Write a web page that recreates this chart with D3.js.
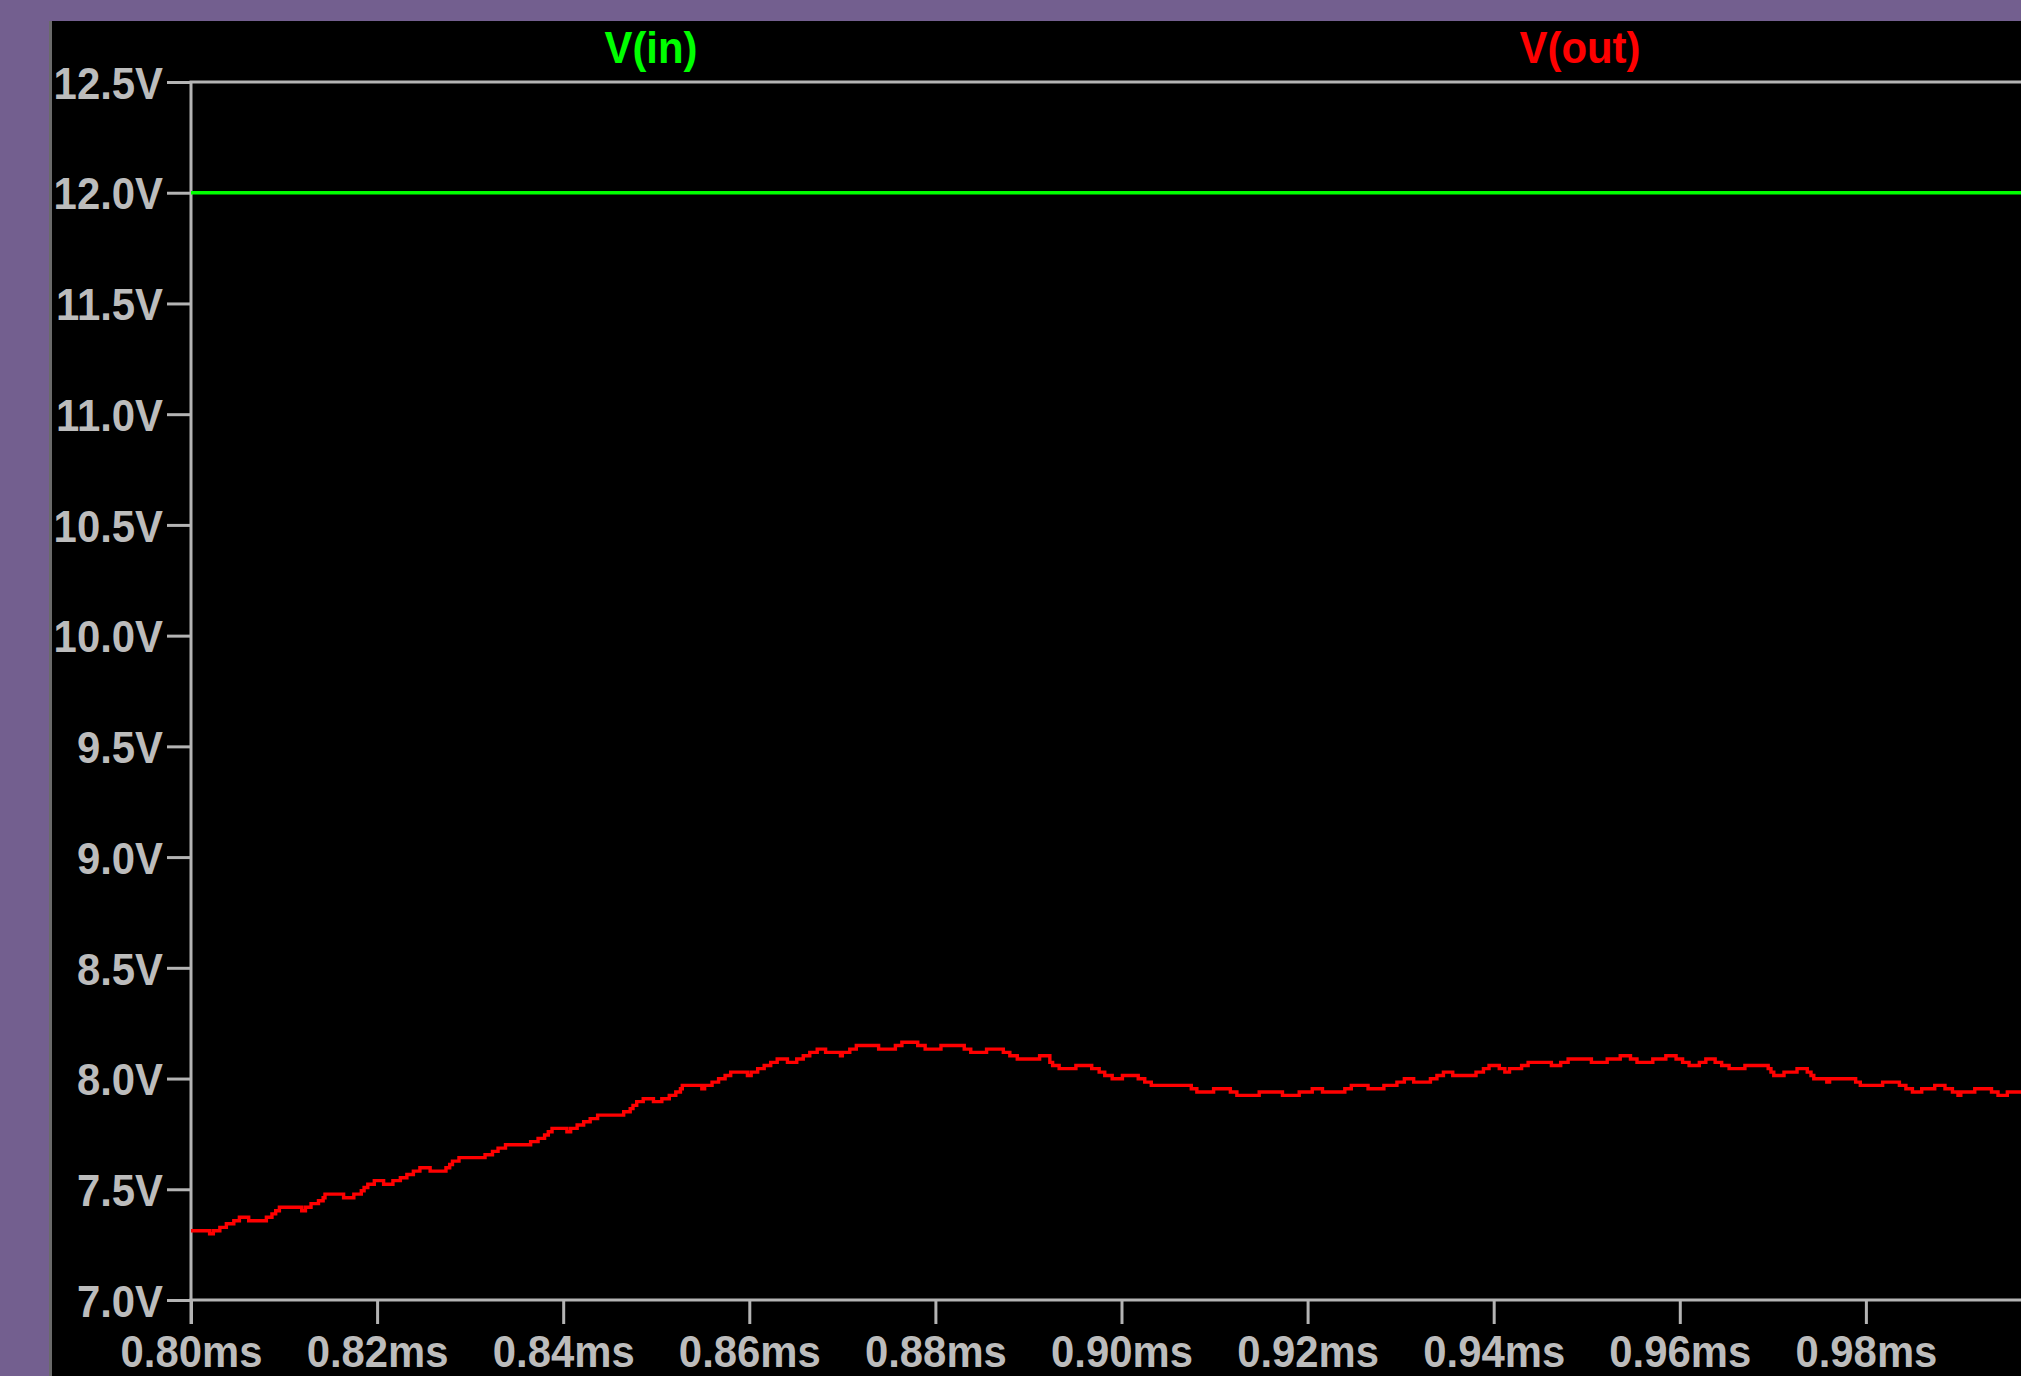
<!DOCTYPE html>
<html>
<head>
<meta charset="utf-8">
<script src="https://cdn.jsdelivr.net/npm/d3@7"></script>
<style>
  html, body { margin: 0; padding: 0; background: #735f8f; overflow: hidden; }
  svg { display: block; }
</style>
</head>
<body>
<svg id="chart" width="2021" height="1376"></svg>
<script>
// ---------------- data ----------------
const seriesNames = ["V(in)", "V(out)"];
const xTickValues = [0.80, 0.82, 0.84, 0.86, 0.88, 0.90, 0.92, 0.94, 0.96, 0.98];
const yTickValues = [7.0, 7.5, 8.0, 8.5, 9.0, 9.5, 10.0, 10.5, 11.0, 11.5, 12.0, 12.5];

const vinTime = [0.80, 0.99667];
const vinVolt = [12.0, 12.0];

const voutTime = [
  0.8000, 0.8020, 0.8024, 0.8031, 0.8038, 0.8046, 0.8052, 0.8062, 0.8081, 0.8087,
  0.8091, 0.8095, 0.8119, 0.8123, 0.8129, 0.8137, 0.8142, 0.8144, 0.8164, 0.8175,
  0.8183, 0.8186, 0.8190, 0.8197, 0.8207, 0.8217, 0.8225, 0.8232, 0.8239, 0.8246,
  0.8257, 0.8274, 0.8278, 0.8281, 0.8288, 0.8316, 0.8324, 0.8330, 0.8338, 0.8365,
  0.8373, 0.8380, 0.8384, 0.8388, 0.8404, 0.8408, 0.8415, 0.8422, 0.8429, 0.8437,
  0.8465, 0.8472, 0.8475, 0.8479, 0.8486, 0.8497, 0.8506, 0.8514, 0.8521, 0.8526,
  0.8528, 0.8549, 0.8552, 0.8560, 0.8567, 0.8574, 0.8580, 0.8598, 0.8602, 0.8609,
  0.8616, 0.8623, 0.8630, 0.8641, 0.8651, 0.8658, 0.8665, 0.8673, 0.8682, 0.8698,
  0.8700, 0.8708, 0.8715, 0.8739, 0.8757, 0.8764, 0.8781, 0.8789, 0.8806, 0.8831,
  0.8838, 0.8855, 0.8873, 0.8880, 0.8888, 0.8912, 0.8923, 0.8926, 0.8933, 0.8951,
  0.8968, 0.8976, 0.8982, 0.8990, 0.9001, 0.9018, 0.9025, 0.9032, 0.9075, 0.9081,
  0.9099, 0.9117, 0.9124, 0.9148, 0.9173, 0.9191, 0.9205, 0.9216, 0.9240, 0.9247,
  0.9265, 0.9282, 0.9296, 0.9304, 0.9314, 0.9332, 0.9339, 0.9346, 0.9356, 0.9381,
  0.9389, 0.9395, 0.9406, 0.9412, 0.9417, 0.9430, 0.9437, 0.9462, 0.9472, 0.9480,
  0.9505, 0.9522, 0.9536, 0.9547, 0.9554, 0.9571, 0.9585, 0.9596, 0.9603, 0.9610,
  0.9621, 0.9628, 0.9638, 0.9645, 0.9653, 0.9670, 0.9695, 0.9698, 0.9701, 0.9712,
  0.9726, 0.9737, 0.9741, 0.9744, 0.9758, 0.9761, 0.9789, 0.9794, 0.9818, 0.9836,
  0.9843, 0.9850, 0.9860, 0.9874, 0.9885, 0.9893, 0.9899, 0.9902, 0.9917, 0.9935,
  0.9942, 0.9952, 0.99667
];
const voutVolt = [
  7.313, 7.299, 7.313, 7.328, 7.344, 7.358, 7.374, 7.358, 7.374, 7.389,
  7.403, 7.419, 7.403, 7.419, 7.435, 7.448, 7.462, 7.478, 7.462, 7.478,
  7.493, 7.508, 7.523, 7.539, 7.523, 7.539, 7.552, 7.567, 7.582, 7.597,
  7.582, 7.597, 7.612, 7.627, 7.643, 7.656, 7.671, 7.686, 7.701, 7.715,
  7.730, 7.745, 7.760, 7.775, 7.760, 7.775, 7.790, 7.805, 7.819, 7.835,
  7.850, 7.864, 7.879, 7.896, 7.909, 7.896, 7.909, 7.924, 7.939, 7.954,
  7.969, 7.954, 7.969, 7.984, 7.999, 8.014, 8.029, 8.014, 8.029, 8.045,
  8.059, 8.073, 8.088, 8.073, 8.088, 8.103, 8.118, 8.133, 8.118, 8.103,
  8.118, 8.133, 8.149, 8.133, 8.149, 8.164, 8.149, 8.133, 8.149, 8.133,
  8.118, 8.133, 8.118, 8.103, 8.088, 8.103, 8.073, 8.059, 8.045, 8.059,
  8.045, 8.029, 8.014, 7.999, 8.014, 7.999, 7.984, 7.969, 7.954, 7.939,
  7.954, 7.939, 7.924, 7.939, 7.924, 7.939, 7.954, 7.939, 7.954, 7.969,
  7.954, 7.969, 7.984, 7.999, 7.984, 7.999, 8.014, 8.029, 8.014, 8.029,
  8.045, 8.059, 8.045, 8.029, 8.045, 8.059, 8.073, 8.059, 8.073, 8.088,
  8.073, 8.088, 8.103, 8.088, 8.073, 8.088, 8.103, 8.088, 8.073, 8.059,
  8.073, 8.088, 8.073, 8.059, 8.045, 8.059, 8.045, 8.029, 8.014, 8.029,
  8.045, 8.029, 8.014, 7.999, 7.984, 7.999, 7.984, 7.969, 7.984, 7.969,
  7.954, 7.939, 7.954, 7.969, 7.954, 7.939, 7.924, 7.939, 7.954, 7.939,
  7.924, 7.939, 7.939
];

// ---------------- layout ----------------
const W = 2021, H = 1376;
const panelX = 52, panelY = 21;
const plotLeft = 191, plotRight = 2021, plotTop = 82, plotBottom = 1300;
const axisColor = "#b4b4b4";
const labelColor = "#bcbcbc";
const colors = { "V(in)": "#00ff00", "V(out)": "#ff0000" };
const fontFamily = "'Liberation Sans', Arial, sans-serif";
const squeeze = 0.93;

const svg = d3.select("#chart");

// background frame
svg.append("rect").attr("x", 0).attr("y", 0).attr("width", W).attr("height", H).attr("fill", "#735f8f");
svg.append("rect").attr("x", panelX - 3).attr("y", panelY).attr("width", 3).attr("height", H - panelY).attr("fill", "#6a6a6a");
svg.append("rect").attr("x", panelX).attr("y", panelY).attr("width", W - panelX).attr("height", H - panelY).attr("fill", "#000000");

// scales
const x = d3.scaleLinear().domain([0.80, 0.99667]).range([plotLeft, plotRight]);
const y = d3.scaleLinear().domain([7.0, 12.5]).range([plotBottom, plotTop]);

// clip
svg.append("defs").append("clipPath").attr("id", "plotclip")
  .append("rect").attr("x", plotLeft).attr("y", plotTop - 4)
  .attr("width", plotRight - plotLeft).attr("height", plotBottom - plotTop + 8);

// axes
const yAxis = d3.axisLeft(y).tickValues(yTickValues)
  .tickFormat(d => d.toFixed(1) + "V").tickSize(24).tickPadding(4);
const xAxis = d3.axisBottom(x).tickValues(xTickValues)
  .tickFormat(d => d.toFixed(2) + "ms").tickSize(24).tickPadding(10);

const gy = svg.append("g").attr("transform", `translate(${plotLeft},0)`).call(yAxis);
const gx = svg.append("g").attr("transform", `translate(0,${plotBottom})`).call(xAxis);

[gx, gy].forEach(g => {
  g.select(".domain").remove();
  g.selectAll(".tick line").attr("stroke", axisColor).attr("stroke-width", 3);
  g.selectAll(".tick text")
    .attr("fill", labelColor)
    .style("font-family", fontFamily)
    .style("font-weight", "bold")
    .style("font-size", "45px");
});
gy.selectAll(".tick text").attr("dy", "0.36em").attr("x", -28);
gx.selectAll(".tick text").attr("dy", "0").attr("y", 67);

// frame lines: top, left, bottom
svg.append("line").attr("x1", plotLeft - 1.5).attr("x2", plotRight).attr("y1", plotTop).attr("y2", plotTop)
  .attr("stroke", axisColor).attr("stroke-width", 3);
svg.append("line").attr("x1", plotLeft).attr("x2", plotLeft).attr("y1", plotTop).attr("y2", plotBottom + 24)
  .attr("stroke", axisColor).attr("stroke-width", 3);
svg.append("line").attr("x1", plotLeft - 1.5).attr("x2", plotRight).attr("y1", plotBottom).attr("y2", plotBottom)
  .attr("stroke", axisColor).attr("stroke-width", 3);

// series
const vinData = vinTime.map((t, i) => ({ t, v: vinVolt[i] }));
const voutData = voutTime.map((t, i) => ({ t, v: voutVolt[i] }));

const plot = svg.append("g").attr("clip-path", "url(#plotclip)");

plot.append("path").datum(vinData)
  .attr("fill", "none").attr("stroke", colors["V(in)"]).attr("stroke-width", 3.5)
  .attr("d", d3.line().x(d => x(d.t)).y(d => y(d.v)));

plot.append("path").datum(voutData)
  .attr("fill", "none").attr("stroke", colors["V(out)"]).attr("stroke-width", 3.4)
  .attr("stroke-linejoin", "miter")
  .attr("d", d3.line().curve(d3.curveStepAfter).x(d => x(d.t)).y(d => y(d.v)));

// trace titles
const titleX = { "V(in)": 651, "V(out)": 1580 };
svg.selectAll("text.title").data(seriesNames).enter().append("text")
  .attr("class", "title")
  .attr("x", d => titleX[d]).attr("y", 63)
  .attr("text-anchor", "middle")
  .attr("fill", d => colors[d])
  .style("font-family", fontFamily)
  .style("font-weight", "bold")
  .style("font-size", "45px")
  .text(d => d);

// narrow all text slightly to match the condensed screen font
svg.selectAll("text").each(function () {
  const len = this.getComputedTextLength();
  d3.select(this).attr("textLength", (len * squeeze).toFixed(1)).attr("lengthAdjust", "spacingAndGlyphs");
});
</script>
</body>
</html>
